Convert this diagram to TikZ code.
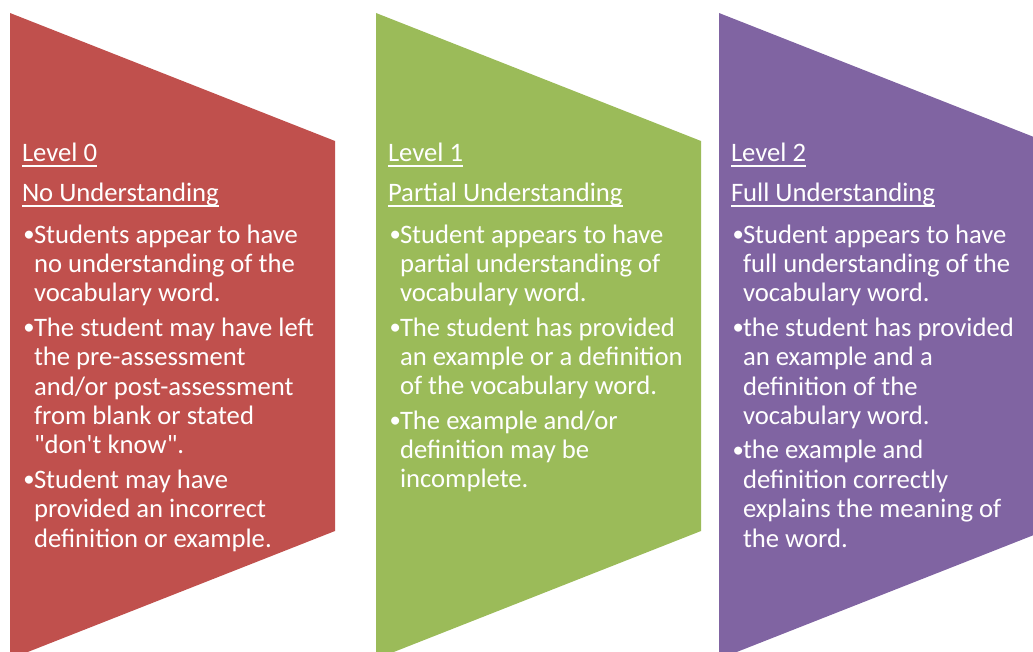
\documentclass[tikz,border=0pt]{standalone}
\usepackage{fontspec}
\setmainfont{Carlito}[Ligatures=TeXOff]
\definecolor{lvlred}{HTML}{C0504D}
\definecolor{lvlgreen}{HTML}{9BBB59}
\definecolor{lvlpurple}{HTML}{8064A2}
\tikzset{
  txt/.style={anchor=base west, inner sep=0pt, outer sep=0pt, text=white, align=left,
    font=\fontsize{20}{22.1}\selectfont},
  bul/.style={txt, font=\fontsize{17}{20}\selectfont},
  uline/.style={draw=white, line width=1.3pt*0.75},
}
\begin{document}
\begin{tikzpicture}[x=0.75pt, y=-0.75pt]
\useasboundingbox (0,0) rectangle (1033,652);
\clip (0,0) rectangle (1033,652);
% shapes
\fill[lvlred]    (10,13)  -- (335,141)  -- (335,531)  -- (10,659)  -- cycle;
\fill[lvlgreen]  (376,13) -- (701,141)  -- (701,531)  -- (376,659) -- cycle;
\fill[lvlpurple] (719,13) -- (1044,141) -- (1044,531) -- (719,659) -- cycle;

% ---- Level 0 (multi-line nodes are placed at their last baseline)
\node[txt] (r0) at (22,162) {Level 0};
\node[txt] (r1) at (22,202) {No Understanding};
\draw[uline] ([yshift=-4*0.75pt]r0.base west) -- ([yshift=-4*0.75pt]r0.base east);
\draw[uline] ([yshift=-4*0.75pt]r1.base west) -- ([yshift=-4*0.75pt]r1.base east);
\node[bul] (rb1) at (23.5,242) {•};
\node[txt] (rt1) at (34,302) {Students appear to have\\no understanding of the\\vocabulary word.};
\node[bul] (rb2) at (23.5,335) {•};
\node[txt] (rt2) at (34,454) {The student may have left\\the pre-assessment\\and/or post-assessment\\from blank or stated\\"don't know".};
\node[bul] (rb3) at (23.5,487) {•};
\node[txt] (rt3) at (34,547) {Student may have\\provided an incorrect\\definition or example.};

% ---- Level 1
\node[txt] (g0) at (388,162) {Level 1};
\node[txt] (g1) at (388,202) {Partial Understanding};
\draw[uline] ([yshift=-4*0.75pt]g0.base west) -- ([yshift=-4*0.75pt]g0.base east);
\draw[uline] ([yshift=-4*0.75pt]g1.base west) -- ([yshift=-4*0.75pt]g1.base east);
\node[bul] (gb1) at (389.5,242) {•};
\node[txt] (gt1) at (400,302) {Student appears to have\\partial understanding of\\vocabulary word.};
\node[bul] (gb2) at (389.5,335) {•};
\node[txt] (gt2) at (400,395) {The student has provided\\an example or a definition\\of the vocabulary word.};
\node[bul] (gb3) at (389.5,428) {•};
\node[txt] (gt3) at (400,488) {The example and/or\\definition may be\\incomplete.};

% ---- Level 2
\node[txt] (p0) at (731,162) {Level 2};
\node[txt] (p1) at (731,202) {Full Understanding};
\draw[uline] ([yshift=-4*0.75pt]p0.base west) -- ([yshift=-4*0.75pt]p0.base east);
\draw[uline] ([yshift=-4*0.75pt]p1.base west) -- ([yshift=-4*0.75pt]p1.base east);
\node[bul] (pb1) at (732.5,242) {•};
\node[txt] (pt1) at (743,302) {Student appears to have\\full understanding of the\\vocabulary word.};
\node[bul] (pb2) at (732.5,335) {•};
\node[txt] (pt2) at (743,424.5) {the student has provided\\an example and a\\definition of the\\vocabulary word.};
\node[bul] (pb3) at (732.5,457.5) {•};
\node[txt] (pt3) at (743,547) {the example and\\definition correctly\\explains the meaning of\\the word.};
\end{tikzpicture}
\end{document}
